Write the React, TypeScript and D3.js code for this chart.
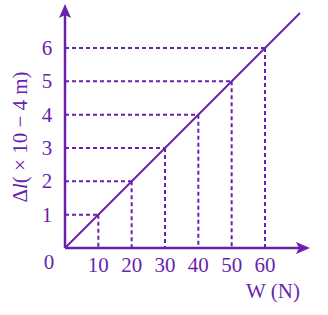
import React from "react";
import * as d3 from "d3";

const forces = [10, 20, 30, 40, 50, 60];
const extensions = [1, 2, 3, 4, 5, 6];
const xTicks = [10, 20, 30, 40, 50, 60];
const yTicks = [1, 2, 3, 4, 5, 6];
const lineEnd = [0, 70.5];
const lineEndY = [0, 7.05];

const C = "#6a1fae";

export default function App() {
  const x = d3.scaleLinear().domain([0, 60]).range([65, 265]);
  const y = d3.scaleLinear().domain([0, 6]).range([248, 48]);
  const font = "'Liberation Serif', 'DejaVu Serif', serif";
  const line = d3.line<[number, number]>().x(d => x(d[0])).y(d => y(d[1]));
  const pts: [number, number][] = lineEnd.map((v, i) => [v, lineEndY[i]]);
  return (
    <svg width={328} height={315} style={{ position: "absolute", left: 0, top: 0 }}>
      <rect width={328} height={315} fill="#fff" />
      {forces.map((f, i) => (
        <g key={i} stroke={C} strokeWidth={2} strokeDasharray="4,3" fill="none">
          <line x1={x(0)} x2={x(f)} y1={y(extensions[i])} y2={y(extensions[i])} />
          <line x1={x(f)} x2={x(f)} y1={y(extensions[i])} y2={y(0)} />
        </g>
      ))}
      <path d={line(pts) || ""} stroke={C} strokeWidth={2} fill="none" />
      <line x1={x(0)} x2={x(0)} y1={y(0)} y2={14} stroke={C} strokeWidth={2.5} />
      <path d={`M${x(0) - 6},18 L${x(0)},4 L${x(0) + 6},18 L${x(0)},15 Z`} fill={C} />
      <line x1={x(0)} x2={300} y1={y(0)} y2={y(0)} stroke={C} strokeWidth={2.5} />
      <path d={`M296,${y(0) - 6} L310,${y(0)} L296,${y(0) + 6} L299,${y(0)} Z`} fill={C} />
      {yTicks.map(t => (
        <text key={t} x={47} y={y(t) + 7} fill={C} fontFamily={font} fontSize={21} textAnchor="middle">{t}</text>
      ))}
      {xTicks.map(t => (
        <text key={t} x={x(t)} y={272} fill={C} fontFamily={font} fontSize={21} textAnchor="middle">{t}</text>
      ))}
      <text x={49} y={269} fill={C} fontFamily={font} fontSize={21} textAnchor="middle">0</text>
      <text x={273} y={298} fill={C} fontFamily={font} fontSize={21} textAnchor="middle">W (N)</text>
      <text transform="translate(27,137) rotate(-90)" fill={C} fontFamily={font} fontSize={21} textAnchor="middle">
        Δ<tspan fontStyle="italic">l</tspan>( × 10 − 4 m)
      </text>
    </svg>
  );
}
